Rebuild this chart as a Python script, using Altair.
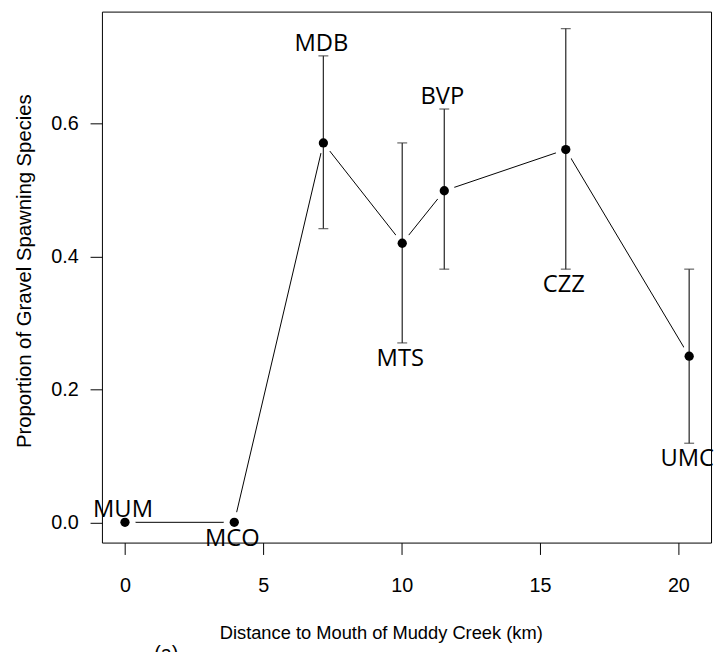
import altair as alt
import pandas as pd

sites = ["MUM", "MCO", "MDB", "MTS", "BVP", "CZZ", "UMC"]
distance_km = [0.0, 3.95, 7.17, 10.02, 11.54, 15.93, 20.39]
proportion = [0.0, 0.0, 0.571, 0.420, 0.499, 0.561, 0.250]
lower = [0.0, 0.0, 0.442, 0.270, 0.381, 0.381, 0.119]
upper = [0.0, 0.0, 0.702, 0.571, 0.622, 0.743, 0.381]
label_side = ["above", "below", "above", "below", "above", "below", "below"]
x_ticks = [0, 5, 10, 15, 20]
y_ticks = [0.0, 0.2, 0.4, 0.6]

df = pd.DataFrame({
    "site": sites,
    "dist": distance_km,
    "prop": proportion,
    "lower": lower,
    "upper": upper,
    "side": label_side,
})
df["anchor"] = [u if s == "above" else l for u, l, s in zip(upper, lower, label_side)]

xscale = alt.Scale(domain=[-0.8326, 21.18], nice=False, zero=False)
yscale = alt.Scale(domain=[-0.0305, 0.7686], nice=False, zero=False)

xaxis = alt.Axis(values=x_ticks, format="d", title="Distance to Mouth of Muddy Creek (km)",
                 tickSize=12, labelPadding=21, titleX=282, titleY=97, titleBaseline="alphabetic",
                 titleAlign="center", titleFontSize=18.5,
                 grid=False, domain=False, labelFlush=False)
yaxis = alt.Axis(values=y_ticks, format=".1f", title="Proportion of Gravel Spawning Species",
                 tickSize=12, labelPadding=12, titleX=-72, titleY=262, titleAngle=270,
                 titleBaseline="alphabetic", titleAlign="center", titleFontSize=20.5,
                 grid=False, domain=False, labelAngle=0, labelFlush=False)


def X(field):
    return alt.X(f"{field}:Q", scale=xscale, axis=xaxis)


def Y(field):
    return alt.Y(f"{field}:Q", scale=yscale, axis=yaxis)


base = alt.Chart(df)

line = base.mark_line(color="black", strokeWidth=1).encode(x=X("dist"), y=Y("prop"), order="dist:Q")
halo = base.mark_circle(size=452, color="white", opacity=1).encode(x=X("dist"), y=Y("prop"))
bars = base.transform_filter("datum.upper > datum.lower")
rule = bars.mark_rule(color="#333333", strokeWidth=1.3).encode(x=X("dist"), y=Y("lower"), y2="upper:Q")
cap_hi = bars.mark_tick(orient="horizontal", size=10, thickness=1.3, color="#333333").encode(x=X("dist"), y=Y("upper"))
cap_lo = bars.mark_tick(orient="horizontal", size=10, thickness=1.3, color="#333333").encode(x=X("dist"), y=Y("lower"))
points = base.mark_circle(size=88, color="black", opacity=1).encode(x=X("dist"), y=Y("prop"))

lab_above = base.transform_filter("datum.side == 'above'").mark_text(
    font="Open Sans", fontSize=24, baseline="alphabetic", align="center", dy=-5, dx=-2, color="black"
).encode(x=X("dist"), y=Y("anchor"), text="site:N")
lab_below = base.transform_filter("datum.side == 'below'").mark_text(
    font="Open Sans", fontSize=24, baseline="alphabetic", align="center", dy=23.5, dx=-2, color="black"
).encode(x=X("dist"), y=Y("anchor"), text="site:N")

annot = alt.Chart(pd.DataFrame({"t": ["(a)"]})).mark_text(
    font="Liberation Sans", fontSize=20, align="center", baseline="alphabetic", color="black"
).encode(x=alt.value(65), y=alt.value(656), text="t:N")

chart = alt.layer(line, halo, rule, cap_hi, cap_lo, points, lab_above, lab_below, annot).properties(
    width=616, height=537, autosize="none",
    padding={"left": 95, "top": 0, "right": 3, "bottom": 107},
    background="white",
).configure_view(stroke="black", strokeWidth=1).configure_axis(
    labelFont="Liberation Sans", labelFontSize=20, titleFont="Liberation Sans", titleFontSize=20,
    titleFontWeight="normal", labelColor="black", titleColor="black", tickColor="black", tickWidth=1,
)

chart.save("out.html", embed_options={"renderer": "svg", "actions": False})
